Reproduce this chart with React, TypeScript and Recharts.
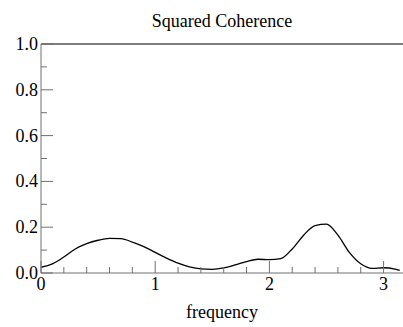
import { LineChart, Line, XAxis, YAxis, ReferenceLine } from 'recharts';

// frequency (radians) and squared coherence
const frequency = [
  0, 0.1, 0.2, 0.3, 0.4, 0.5, 0.6, 0.7, 0.8, 0.9, 1.0, 1.1, 1.2, 1.3, 1.4, 1.5,
  1.6, 1.7, 1.8, 1.9, 2.0, 2.1, 2.2, 2.3, 2.4, 2.5, 2.6, 2.7, 2.8, 2.9, 3.0, 3.1, 3.1416,
];
const coherence = [
  0.025, 0.04, 0.07, 0.105, 0.128, 0.143, 0.151, 0.15, 0.135, 0.115, 0.09, 0.065, 0.043,
  0.027, 0.018, 0.016, 0.022, 0.035, 0.05, 0.06, 0.058, 0.063, 0.105, 0.165, 0.207, 0.213,
  0.165, 0.09, 0.04, 0.02, 0.023, 0.017, 0.011,
];
const xTicks = [0, 0.2, 0.4, 0.6, 0.8, 1, 1.2, 1.4, 1.6, 1.8, 2, 2.2, 2.4, 2.6, 2.8, 3];
const yTicks = [0, 0.1, 0.2, 0.3, 0.4, 0.5, 0.6, 0.7, 0.8, 0.9, 1];

const data = frequency.map((f, i) => ({ f, c: coherence[i] }));

const FONT = 'Liberation Serif, Times New Roman, serif';
const AXIS = '#707070';

const isMajor = (v: number, step: number) => Math.abs(v / step - Math.round(v / step)) < 1e-6;

function XTick({ x, y, payload }: any) {
  const v = payload.value;
  const major = isMajor(v, 1);
  return (
    <g>
      <line x1={x} x2={x} y1={y} y2={y - (major ? 12 : 6)} stroke={AXIS} />
      {major && (
        <text x={x} y={y + 17} textAnchor="middle" fontSize={18} fontFamily={FONT} fill="#000">
          {v}
        </text>
      )}
    </g>
  );
}

function YTick({ x, y, payload }: any) {
  const v = payload.value;
  const major = isMajor(v, 0.2);
  return (
    <g>
      <line x1={x} x2={x + (major ? 12 : 6)} y1={y} y2={y} stroke={AXIS} />
      {major && (
        <text x={x - 3} y={y + 6} textAnchor="end" fontSize={18} fontFamily={FONT} fill="#000">
          {v.toFixed(1)}
        </text>
      )}
    </g>
  );
}

export default function App() {
  return (
    <div style={{ position: 'absolute', left: 0, top: 0, width: 403, height: 327, background: '#fff' }}>
      <div
        style={{
          position: 'absolute',
          left: 41,
          width: 362,
          top: 12,
          textAlign: 'center',
          fontFamily: FONT,
          fontSize: 18,
          lineHeight: '18px',
        }}
      >
        Squared Coherence
      </div>
      <LineChart width={403} height={327} data={data} margin={{ top: 44, right: 0, bottom: 0, left: 0 }}>
        <XAxis
          dataKey="f"
          type="number"
          domain={[0, 3.17]}
          ticks={xTicks}
          interval={0}
          tickLine={false}
          tickSize={0}
          tickMargin={0}
          tick={<XTick />}
          height={54}
          stroke={AXIS}
          allowDataOverflow
          label={{ value: 'frequency', position: 'insideBottom', offset: 9, fontSize: 18, fontFamily: FONT, fill: '#000' }}
        />
        <YAxis
          type="number"
          domain={[0, 1]}
          ticks={yTicks}
          interval={0}
          tickLine={false}
          tickSize={0}
          tickMargin={0}
          tick={<YTick />}
          width={41}
          stroke={AXIS}
        />
        <ReferenceLine y={1} stroke="#000" strokeWidth={1.2} />
        <Line
          type="monotone"
          dataKey="c"
          stroke="#000"
          strokeWidth={1.3}
          dot={false}
          isAnimationActive={false}
        />
      </LineChart>
    </div>
  );
}
